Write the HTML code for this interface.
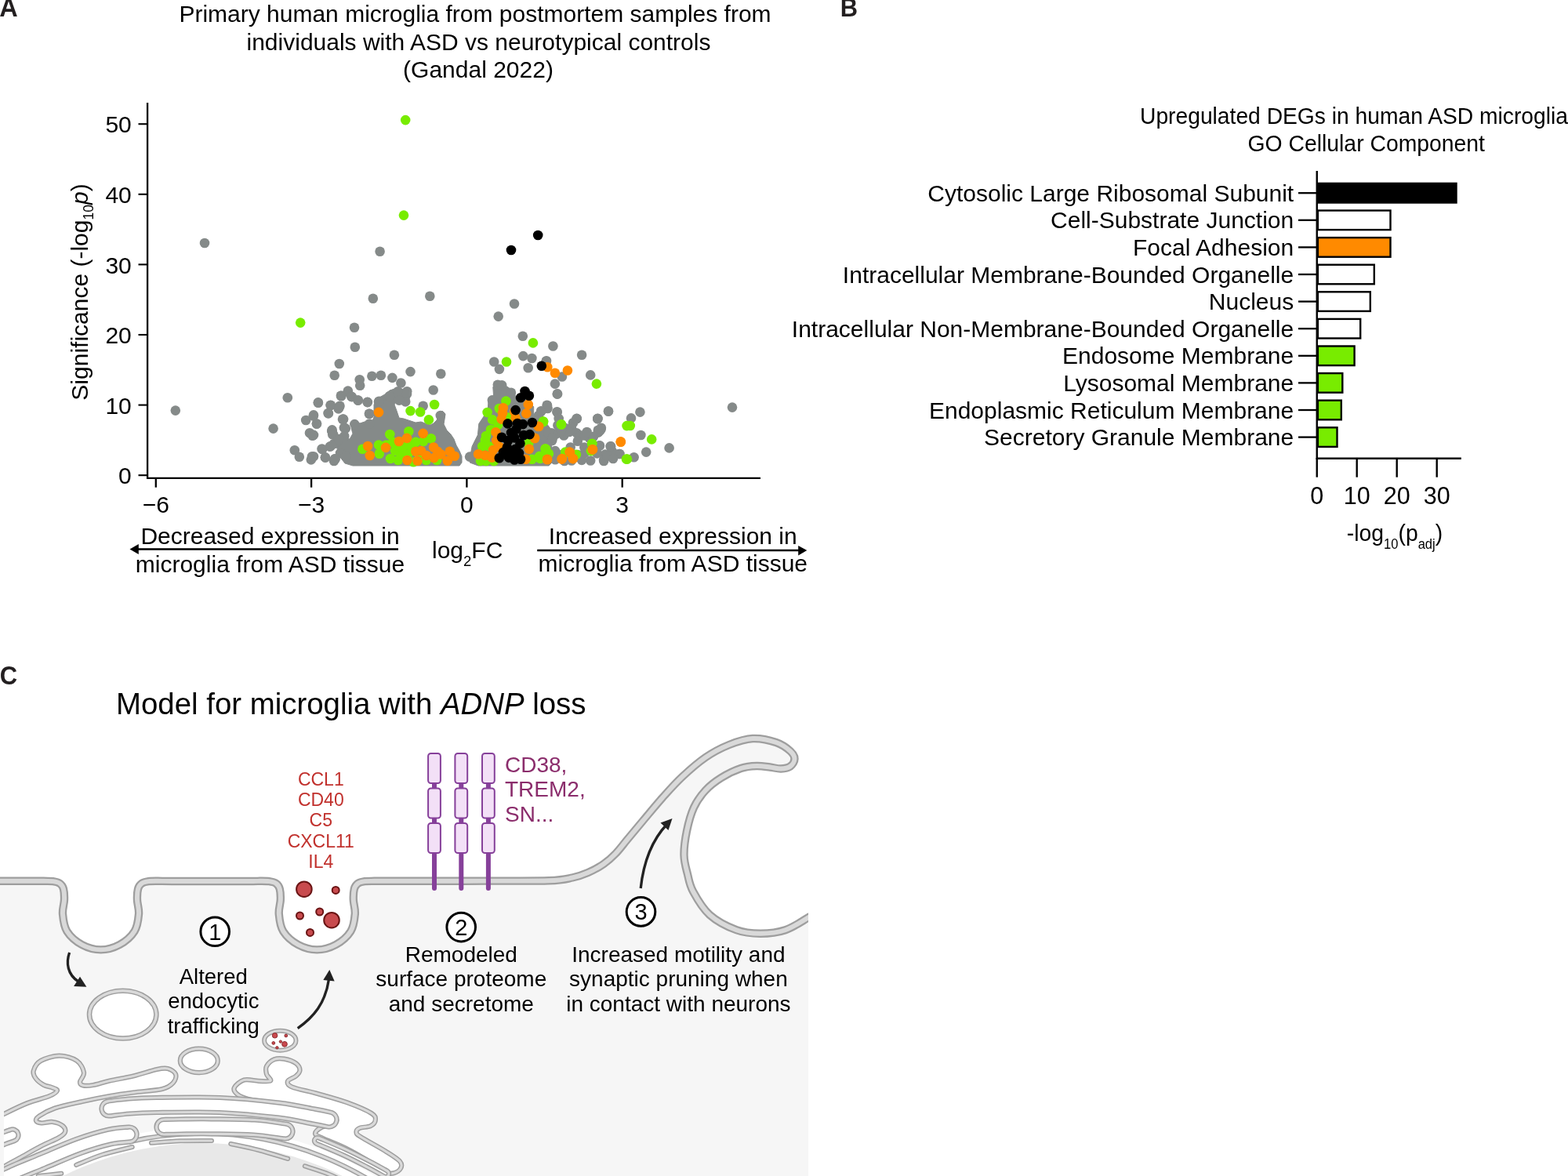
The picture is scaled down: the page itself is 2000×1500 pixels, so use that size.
<!DOCTYPE html>
<html><head><meta charset="utf-8"><style>
html,body{margin:0;padding:0;background:#fff;width:2000px;height:1500px;overflow:hidden}
svg{display:block}
text{font-family:"Liberation Sans", Arial, Helvetica, sans-serif}
.t30{font-size:30px}
.t28{font-size:28px}
.lab{font-family:"Liberation Sans", Arial, Helvetica, sans-serif;font-weight:bold;font-size:33px;fill:#231f20}
</style></head><body>
<svg width="2000" height="1500" viewBox="0 0 2000 1500">
<text x="-0.8" y="20.7" class="lab" textLength="23.5" lengthAdjust="spacingAndGlyphs">A</text>
<text x="1071.8" y="20.8" class="lab" textLength="22.3" lengthAdjust="spacingAndGlyphs">B</text>
<text x="-0.3" y="873.1" class="lab" textLength="22.4" lengthAdjust="spacingAndGlyphs">C</text>
<defs><clipPath id="cclip"><rect x="0" y="900" width="1031" height="600"/></clipPath><clipPath id="erclip"><rect x="5" y="1300" width="1026" height="200"/></clipPath></defs>
<g clip-path="url(#cclip)">
<path d="M-20.0 1123.8 C-13.3 1123.8 7.4 1123.8 20.0 1123.8 C32.6 1123.8 47.6 1123.7 55.5 1123.8 C63.4 1123.9 64.0 1123.7 67.5 1124.2 C71.0 1124.7 74.2 1125.4 76.5 1127.0 C78.8 1128.6 80.1 1130.5 81.0 1134.0 C81.9 1137.5 82.2 1142.7 82.0 1148.0 C81.8 1153.3 79.4 1159.3 80.0 1166.0 C80.6 1172.7 81.4 1181.5 85.5 1188.0 C89.6 1194.5 97.3 1201.1 104.5 1205.0 C111.7 1208.9 120.5 1211.4 128.5 1211.4 C136.5 1211.4 145.3 1208.9 152.5 1205.0 C159.7 1201.1 167.4 1194.5 171.5 1188.0 C175.6 1181.5 176.4 1172.7 177.0 1166.0 C177.6 1159.3 175.2 1153.3 175.0 1148.0 C174.8 1142.7 175.1 1137.5 176.0 1134.0 C176.9 1130.5 178.2 1128.6 180.5 1127.0 C182.8 1125.4 186.0 1124.7 189.5 1124.2 C193.0 1123.7 196.4 1123.8 201.5 1123.8 C206.6 1123.8 208.6 1124.0 220.0 1124.0 C231.4 1124.0 253.3 1124.0 270.0 1124.0 C286.7 1124.0 309.8 1124.0 320.0 1124.0 C330.2 1124.0 327.4 1123.8 331.3 1123.8 C335.2 1123.8 339.8 1123.7 343.3 1124.2 C346.8 1124.7 350.1 1125.4 352.3 1127.0 C354.6 1128.6 355.9 1130.5 356.8 1134.0 C357.7 1137.5 358.0 1142.7 357.8 1148.0 C357.6 1153.3 355.2 1159.3 355.8 1166.0 C356.4 1172.7 357.2 1181.5 361.3 1188.0 C365.4 1194.5 373.1 1201.1 380.3 1205.0 C387.5 1208.9 396.3 1211.4 404.3 1211.4 C412.3 1211.4 421.1 1208.9 428.3 1205.0 C435.5 1201.1 443.2 1194.5 447.3 1188.0 C451.4 1181.5 452.2 1172.7 452.8 1166.0 C453.4 1159.3 451.0 1153.3 450.8 1148.0 C450.6 1142.7 450.9 1137.5 451.8 1134.0 C452.7 1130.5 454.1 1128.6 456.3 1127.0 C458.6 1125.4 461.8 1124.7 465.3 1124.2 C468.8 1123.7 473.2 1123.9 477.3 1123.8 C481.4 1123.7 479.6 1123.8 490.0 1123.8 C500.4 1123.8 518.3 1123.8 540.0 1123.8 C561.7 1123.8 593.3 1123.7 620.0 1123.6 C646.7 1123.5 681.7 1124.0 700.0 1123.3 C718.3 1122.6 721.7 1121.2 730.0 1119.5 C738.3 1117.8 743.3 1115.9 750.0 1113.0 C756.7 1110.1 764.2 1106.0 770.0 1102.0 C775.8 1098.0 780.0 1094.2 785.0 1089.0 C790.0 1083.8 794.2 1078.0 800.0 1071.0 C805.8 1064.0 812.5 1055.9 820.0 1047.0 C827.5 1038.1 836.7 1026.8 845.0 1017.5 C853.3 1008.2 860.8 999.6 870.0 991.0 C879.2 982.4 890.0 972.8 900.0 966.0 C910.0 959.2 920.0 954.0 930.0 950.0 C940.0 946.0 950.0 942.5 960.0 942.0 C970.0 941.5 982.0 944.3 990.0 947.0 C998.0 949.7 1004.1 954.5 1008.0 958.0 C1011.9 961.5 1013.5 964.8 1013.5 968.0 C1013.5 971.2 1010.9 975.4 1008.0 977.5 C1005.1 979.6 1000.3 980.3 996.0 980.5 C991.7 980.7 987.2 979.1 982.0 978.5 C976.8 977.9 971.2 976.8 965.0 977.0 C958.8 977.2 952.5 977.5 945.0 980.0 C937.5 982.5 927.5 987.3 920.0 992.0 C912.5 996.7 905.8 1001.7 900.0 1008.0 C894.2 1014.3 889.0 1021.3 885.0 1030.0 C881.0 1038.7 878.1 1049.8 876.0 1060.0 C873.9 1070.2 872.3 1081.8 872.5 1091.0 C872.7 1100.2 875.1 1107.3 877.0 1115.0 C878.9 1122.7 879.3 1128.3 884.0 1137.0 C888.7 1145.7 896.1 1158.8 905.3 1167.0 C914.5 1175.2 928.5 1182.2 939.3 1186.2 C950.1 1190.2 959.6 1190.7 970.0 1190.7 C980.4 1190.7 991.5 1189.6 1001.7 1186.2 C1011.9 1182.8 1023.0 1175.0 1031.0 1170.3 C1039.0 1165.6 1046.8 1160.0 1050.0 1158.0 L1031 1500 L-20 1500 Z" fill="#f6f6f6"/>
</g>
<g clip-path="url(#erclip)">
<circle cx="258.5" cy="1856.7" r="419" fill="#fff"/>
<clipPath id="pnclip"><rect x="165" y="1400" width="400" height="100"/></clipPath>
<g clip-path="url(#pnclip)"><circle cx="258.5" cy="1856.7" r="411" fill="none" stroke="#9e9e9e" stroke-width="6.2"/>
<circle cx="258.5" cy="1856.7" r="411" fill="none" stroke="#d9d9d9" stroke-width="3.2"/></g>
<circle cx="258.5" cy="1856.7" r="398.7" fill="#e8e8e8"/>
<path d="M-10.0 1430.0 C-7.5 1417.3 -2.5 1424.8 5.0 1421.0 C12.5 1417.2 25.3 1410.8 35.0 1407.0 C44.7 1403.2 56.7 1400.7 63.0 1398.0 C69.3 1395.3 72.5 1392.8 73.0 1391.0 C73.5 1389.2 68.8 1388.2 66.0 1387.0 C63.2 1385.8 59.3 1385.8 56.0 1384.0 C52.7 1382.2 48.2 1379.0 46.0 1376.0 C43.8 1373.0 41.7 1369.8 42.7 1366.0 C43.7 1362.2 46.5 1356.2 52.0 1353.0 C57.5 1349.8 67.9 1346.7 75.6 1346.7 C83.3 1346.7 92.8 1349.5 98.0 1353.0 C103.2 1356.5 106.3 1363.5 107.0 1368.0 C107.7 1372.5 102.2 1377.2 102.0 1380.0 C101.8 1382.8 103.2 1383.8 106.0 1384.5 C108.8 1385.2 113.3 1385.0 119.0 1384.0 C124.7 1383.0 131.5 1380.4 140.0 1378.5 C148.5 1376.6 160.0 1374.9 170.0 1372.5 C180.0 1370.1 192.7 1365.6 200.0 1364.0 C207.3 1362.4 210.0 1362.0 214.0 1363.0 C218.0 1364.0 222.8 1367.0 224.0 1370.0 C225.2 1373.0 223.8 1377.8 221.0 1381.0 C218.2 1384.2 215.5 1386.9 207.0 1389.0 C198.5 1391.1 181.2 1392.0 170.0 1393.5 C158.8 1395.0 150.8 1396.1 140.0 1398.0 C129.2 1399.9 116.7 1402.4 105.0 1405.0 C93.3 1407.6 79.2 1410.4 70.0 1413.5 C60.8 1416.6 54.0 1420.8 50.0 1423.5 C46.0 1426.2 45.5 1428.0 46.0 1429.5 C46.5 1431.0 49.5 1432.2 53.0 1432.5 C56.5 1432.8 62.5 1430.4 67.0 1431.0 C71.5 1431.6 77.3 1433.8 80.0 1436.0 C82.7 1438.2 83.8 1441.5 83.0 1444.0 C82.2 1446.5 80.2 1448.0 75.0 1451.0 C69.8 1454.0 60.3 1457.7 52.0 1462.0 C43.7 1466.3 32.8 1472.7 25.0 1477.0 C17.2 1481.3 10.8 1484.7 5.0 1488.0 C-0.8 1491.3 -7.5 1506.7 -10.0 1497.0 C-12.5 1487.3 -12.5 1442.7 -10.0 1430.0 Z" fill="#fff" stroke="#9e9e9e" stroke-width="6.2"/><path d="M-10.0 1430.0 C-7.5 1417.3 -2.5 1424.8 5.0 1421.0 C12.5 1417.2 25.3 1410.8 35.0 1407.0 C44.7 1403.2 56.7 1400.7 63.0 1398.0 C69.3 1395.3 72.5 1392.8 73.0 1391.0 C73.5 1389.2 68.8 1388.2 66.0 1387.0 C63.2 1385.8 59.3 1385.8 56.0 1384.0 C52.7 1382.2 48.2 1379.0 46.0 1376.0 C43.8 1373.0 41.7 1369.8 42.7 1366.0 C43.7 1362.2 46.5 1356.2 52.0 1353.0 C57.5 1349.8 67.9 1346.7 75.6 1346.7 C83.3 1346.7 92.8 1349.5 98.0 1353.0 C103.2 1356.5 106.3 1363.5 107.0 1368.0 C107.7 1372.5 102.2 1377.2 102.0 1380.0 C101.8 1382.8 103.2 1383.8 106.0 1384.5 C108.8 1385.2 113.3 1385.0 119.0 1384.0 C124.7 1383.0 131.5 1380.4 140.0 1378.5 C148.5 1376.6 160.0 1374.9 170.0 1372.5 C180.0 1370.1 192.7 1365.6 200.0 1364.0 C207.3 1362.4 210.0 1362.0 214.0 1363.0 C218.0 1364.0 222.8 1367.0 224.0 1370.0 C225.2 1373.0 223.8 1377.8 221.0 1381.0 C218.2 1384.2 215.5 1386.9 207.0 1389.0 C198.5 1391.1 181.2 1392.0 170.0 1393.5 C158.8 1395.0 150.8 1396.1 140.0 1398.0 C129.2 1399.9 116.7 1402.4 105.0 1405.0 C93.3 1407.6 79.2 1410.4 70.0 1413.5 C60.8 1416.6 54.0 1420.8 50.0 1423.5 C46.0 1426.2 45.5 1428.0 46.0 1429.5 C46.5 1431.0 49.5 1432.2 53.0 1432.5 C56.5 1432.8 62.5 1430.4 67.0 1431.0 C71.5 1431.6 77.3 1433.8 80.0 1436.0 C82.7 1438.2 83.8 1441.5 83.0 1444.0 C82.2 1446.5 80.2 1448.0 75.0 1451.0 C69.8 1454.0 60.3 1457.7 52.0 1462.0 C43.7 1466.3 32.8 1472.7 25.0 1477.0 C17.2 1481.3 10.8 1484.7 5.0 1488.0 C-0.8 1491.3 -7.5 1506.7 -10.0 1497.0 C-12.5 1487.3 -12.5 1442.7 -10.0 1430.0 Z" fill="none" stroke="#d9d9d9" stroke-width="3.2"/>
<path d="M298.8 1387.5 C300.1 1384.4 306.0 1379.0 311.2 1377.5 C316.5 1376.0 324.4 1378.6 330.0 1378.8 C335.6 1378.9 343.3 1380.0 345.0 1378.5 C346.7 1377.0 340.8 1373.1 340.0 1370.0 C339.2 1366.9 338.3 1363.1 340.0 1360.0 C341.7 1356.9 346.2 1352.8 350.0 1351.2 C353.8 1349.7 357.9 1349.8 362.5 1350.6 C367.1 1351.4 374.2 1353.8 377.5 1356.2 C380.8 1358.7 382.5 1362.3 382.5 1365.0 C382.5 1367.7 380.1 1370.2 377.5 1372.5 C374.9 1374.8 367.8 1376.7 367.0 1379.0 C366.2 1381.3 366.2 1383.8 372.5 1386.5 C378.8 1389.2 393.3 1391.7 405.0 1395.0 C416.7 1398.3 431.0 1402.1 442.5 1406.2 C454.0 1410.4 467.7 1416.2 473.8 1420.0 C479.8 1423.8 479.0 1426.0 478.8 1428.8 C478.5 1431.5 475.8 1434.6 472.5 1436.2 C469.2 1437.9 461.8 1437.5 458.8 1438.8 C455.8 1440.0 454.3 1442.1 454.5 1444.0 C454.7 1445.9 453.7 1445.9 460.0 1450.0 C466.3 1454.1 484.2 1463.5 492.5 1468.8 C500.8 1474.0 506.9 1477.7 510.0 1481.2 C513.1 1484.8 512.5 1487.5 511.2 1490.0 C510.0 1492.5 506.0 1495.4 502.5 1496.2 C499.0 1497.1 495.4 1497.5 490.0 1495.0 C484.6 1492.5 478.3 1486.2 470.0 1481.0 C461.7 1475.8 449.7 1468.8 440.0 1464.0 C430.3 1459.2 418.3 1455.0 412.0 1452.0 C405.7 1449.0 402.3 1448.3 402.0 1446.0 C401.7 1443.7 405.7 1440.3 410.0 1438.0 C414.3 1435.7 425.5 1434.3 428.0 1432.0 C430.5 1429.7 429.7 1426.7 425.0 1424.0 C420.3 1421.3 411.7 1418.7 400.0 1416.0 C388.3 1413.3 368.8 1410.3 355.0 1408.0 C341.2 1405.7 325.7 1404.0 317.0 1402.0 C308.3 1400.0 306.0 1398.4 303.0 1396.0 C300.0 1393.6 297.4 1390.6 298.8 1387.5 Z" fill="#fff" stroke="#9e9e9e" stroke-width="6.2"/><path d="M298.8 1387.5 C300.1 1384.4 306.0 1379.0 311.2 1377.5 C316.5 1376.0 324.4 1378.6 330.0 1378.8 C335.6 1378.9 343.3 1380.0 345.0 1378.5 C346.7 1377.0 340.8 1373.1 340.0 1370.0 C339.2 1366.9 338.3 1363.1 340.0 1360.0 C341.7 1356.9 346.2 1352.8 350.0 1351.2 C353.8 1349.7 357.9 1349.8 362.5 1350.6 C367.1 1351.4 374.2 1353.8 377.5 1356.2 C380.8 1358.7 382.5 1362.3 382.5 1365.0 C382.5 1367.7 380.1 1370.2 377.5 1372.5 C374.9 1374.8 367.8 1376.7 367.0 1379.0 C366.2 1381.3 366.2 1383.8 372.5 1386.5 C378.8 1389.2 393.3 1391.7 405.0 1395.0 C416.7 1398.3 431.0 1402.1 442.5 1406.2 C454.0 1410.4 467.7 1416.2 473.8 1420.0 C479.8 1423.8 479.0 1426.0 478.8 1428.8 C478.5 1431.5 475.8 1434.6 472.5 1436.2 C469.2 1437.9 461.8 1437.5 458.8 1438.8 C455.8 1440.0 454.3 1442.1 454.5 1444.0 C454.7 1445.9 453.7 1445.9 460.0 1450.0 C466.3 1454.1 484.2 1463.5 492.5 1468.8 C500.8 1474.0 506.9 1477.7 510.0 1481.2 C513.1 1484.8 512.5 1487.5 511.2 1490.0 C510.0 1492.5 506.0 1495.4 502.5 1496.2 C499.0 1497.1 495.4 1497.5 490.0 1495.0 C484.6 1492.5 478.3 1486.2 470.0 1481.0 C461.7 1475.8 449.7 1468.8 440.0 1464.0 C430.3 1459.2 418.3 1455.0 412.0 1452.0 C405.7 1449.0 402.3 1448.3 402.0 1446.0 C401.7 1443.7 405.7 1440.3 410.0 1438.0 C414.3 1435.7 425.5 1434.3 428.0 1432.0 C430.5 1429.7 429.7 1426.7 425.0 1424.0 C420.3 1421.3 411.7 1418.7 400.0 1416.0 C388.3 1413.3 368.8 1410.3 355.0 1408.0 C341.2 1405.7 325.7 1404.0 317.0 1402.0 C308.3 1400.0 306.0 1398.4 303.0 1396.0 C300.0 1393.6 297.4 1390.6 298.8 1387.5 Z" fill="none" stroke="#d9d9d9" stroke-width="3.2"/>
<ellipse cx="253.8" cy="1352.9" rx="24" ry="15.2" fill="#fff" stroke="#9e9e9e" stroke-width="6.2"/><ellipse cx="253.8" cy="1352.9" rx="24" ry="15.2" fill="none" stroke="#d9d9d9" stroke-width="3.2"/>
<path d="M139.0 1414.0 C143.3 1413.5 154.8 1411.8 165.0 1411.0 C175.2 1410.2 180.8 1409.8 200.0 1409.5 C219.2 1409.2 254.2 1408.4 280.0 1409.5 C305.8 1410.6 335.0 1413.6 355.0 1416.0 C375.0 1418.4 389.2 1422.0 400.0 1424.0 C410.8 1426.0 416.7 1427.3 420.0 1428.0" fill="none" stroke="#9e9e9e" stroke-width="25.2" stroke-linecap="round" stroke-linejoin="round"/>
<path d="M209.0 1437.5 C212.5 1437.4 219.8 1437.1 230.0 1437.0 C240.2 1436.9 254.3 1436.6 270.0 1436.8 C285.7 1437.0 308.3 1437.0 324.0 1438.0 C339.7 1439.0 357.3 1442.2 364.0 1443.0" fill="none" stroke="#9e9e9e" stroke-width="25.2" stroke-linecap="round" stroke-linejoin="round"/>
<path d="M-10.0 1509.0 C-5.0 1506.7 9.3 1499.7 20.0 1495.0 C30.7 1490.3 40.7 1486.5 54.0 1481.0 C67.3 1475.5 85.7 1467.2 100.0 1462.0 C114.3 1456.8 129.2 1452.5 140.0 1450.0 C150.8 1447.5 160.8 1447.5 165.0 1447.0" fill="none" stroke="#9e9e9e" stroke-width="25.2" stroke-linecap="round" stroke-linejoin="round"/>
<path d="M-10.0 1458.0 C-7.5 1457.0 0.7 1453.7 5.0 1452.0 C9.3 1450.3 14.2 1448.7 16.0 1448.0" fill="none" stroke="#9e9e9e" stroke-width="21.2" stroke-linecap="round" stroke-linejoin="round"/>
<path d="M405.0 1455.0 C410.8 1457.5 429.2 1465.0 440.0 1470.0 C450.8 1475.0 461.3 1480.5 470.0 1485.0 C478.7 1489.5 488.3 1495.0 492.0 1497.0" fill="none" stroke="#9e9e9e" stroke-width="14.2" stroke-linecap="round" stroke-linejoin="round"/>
<path d="M139.0 1414.0 C143.3 1413.5 154.8 1411.8 165.0 1411.0 C175.2 1410.2 180.8 1409.8 200.0 1409.5 C219.2 1409.2 254.2 1408.4 280.0 1409.5 C305.8 1410.6 335.0 1413.6 355.0 1416.0 C375.0 1418.4 389.2 1422.0 400.0 1424.0 C410.8 1426.0 416.7 1427.3 420.0 1428.0" fill="none" stroke="#d9d9d9" stroke-width="22.2" stroke-linecap="round" stroke-linejoin="round"/>
<path d="M209.0 1437.5 C212.5 1437.4 219.8 1437.1 230.0 1437.0 C240.2 1436.9 254.3 1436.6 270.0 1436.8 C285.7 1437.0 308.3 1437.0 324.0 1438.0 C339.7 1439.0 357.3 1442.2 364.0 1443.0" fill="none" stroke="#d9d9d9" stroke-width="22.2" stroke-linecap="round" stroke-linejoin="round"/>
<path d="M-10.0 1509.0 C-5.0 1506.7 9.3 1499.7 20.0 1495.0 C30.7 1490.3 40.7 1486.5 54.0 1481.0 C67.3 1475.5 85.7 1467.2 100.0 1462.0 C114.3 1456.8 129.2 1452.5 140.0 1450.0 C150.8 1447.5 160.8 1447.5 165.0 1447.0" fill="none" stroke="#d9d9d9" stroke-width="22.2" stroke-linecap="round" stroke-linejoin="round"/>
<path d="M-10.0 1458.0 C-7.5 1457.0 0.7 1453.7 5.0 1452.0 C9.3 1450.3 14.2 1448.7 16.0 1448.0" fill="none" stroke="#d9d9d9" stroke-width="18.2" stroke-linecap="round" stroke-linejoin="round"/>
<path d="M405.0 1455.0 C410.8 1457.5 429.2 1465.0 440.0 1470.0 C450.8 1475.0 461.3 1480.5 470.0 1485.0 C478.7 1489.5 488.3 1495.0 492.0 1497.0" fill="none" stroke="#d9d9d9" stroke-width="11.2" stroke-linecap="round" stroke-linejoin="round"/>
<path d="M139.0 1414.0 C143.3 1413.5 154.8 1411.8 165.0 1411.0 C175.2 1410.2 180.8 1409.8 200.0 1409.5 C219.2 1409.2 254.2 1408.4 280.0 1409.5 C305.8 1410.6 335.0 1413.6 355.0 1416.0 C375.0 1418.4 389.2 1422.0 400.0 1424.0 C410.8 1426.0 416.7 1427.3 420.0 1428.0" fill="none" stroke="#9e9e9e" stroke-width="15.8" stroke-linecap="round" stroke-linejoin="round"/>
<path d="M209.0 1437.5 C212.5 1437.4 219.8 1437.1 230.0 1437.0 C240.2 1436.9 254.3 1436.6 270.0 1436.8 C285.7 1437.0 308.3 1437.0 324.0 1438.0 C339.7 1439.0 357.3 1442.2 364.0 1443.0" fill="none" stroke="#9e9e9e" stroke-width="15.8" stroke-linecap="round" stroke-linejoin="round"/>
<path d="M-10.0 1509.0 C-5.0 1506.7 9.3 1499.7 20.0 1495.0 C30.7 1490.3 40.7 1486.5 54.0 1481.0 C67.3 1475.5 85.7 1467.2 100.0 1462.0 C114.3 1456.8 129.2 1452.5 140.0 1450.0 C150.8 1447.5 160.8 1447.5 165.0 1447.0" fill="none" stroke="#9e9e9e" stroke-width="15.8" stroke-linecap="round" stroke-linejoin="round"/>
<path d="M-10.0 1458.0 C-7.5 1457.0 0.7 1453.7 5.0 1452.0 C9.3 1450.3 14.2 1448.7 16.0 1448.0" fill="none" stroke="#9e9e9e" stroke-width="11.8" stroke-linecap="round" stroke-linejoin="round"/>
<path d="M405.0 1455.0 C410.8 1457.5 429.2 1465.0 440.0 1470.0 C450.8 1475.0 461.3 1480.5 470.0 1485.0 C478.7 1489.5 488.3 1495.0 492.0 1497.0" fill="none" stroke="#9e9e9e" stroke-width="4.8" stroke-linecap="round" stroke-linejoin="round"/>
<path d="M139.0 1414.0 C143.3 1413.5 154.8 1411.8 165.0 1411.0 C175.2 1410.2 180.8 1409.8 200.0 1409.5 C219.2 1409.2 254.2 1408.4 280.0 1409.5 C305.8 1410.6 335.0 1413.6 355.0 1416.0 C375.0 1418.4 389.2 1422.0 400.0 1424.0 C410.8 1426.0 416.7 1427.3 420.0 1428.0" fill="none" stroke="#fff" stroke-width="12.8" stroke-linecap="round" stroke-linejoin="round"/>
<path d="M209.0 1437.5 C212.5 1437.4 219.8 1437.1 230.0 1437.0 C240.2 1436.9 254.3 1436.6 270.0 1436.8 C285.7 1437.0 308.3 1437.0 324.0 1438.0 C339.7 1439.0 357.3 1442.2 364.0 1443.0" fill="none" stroke="#fff" stroke-width="12.8" stroke-linecap="round" stroke-linejoin="round"/>
<path d="M-10.0 1509.0 C-5.0 1506.7 9.3 1499.7 20.0 1495.0 C30.7 1490.3 40.7 1486.5 54.0 1481.0 C67.3 1475.5 85.7 1467.2 100.0 1462.0 C114.3 1456.8 129.2 1452.5 140.0 1450.0 C150.8 1447.5 160.8 1447.5 165.0 1447.0" fill="none" stroke="#fff" stroke-width="12.8" stroke-linecap="round" stroke-linejoin="round"/>
<path d="M-10.0 1458.0 C-7.5 1457.0 0.7 1453.7 5.0 1452.0 C9.3 1450.3 14.2 1448.7 16.0 1448.0" fill="none" stroke="#fff" stroke-width="8.8" stroke-linecap="round" stroke-linejoin="round"/>
<path d="M405.0 1455.0 C410.8 1457.5 429.2 1465.0 440.0 1470.0 C450.8 1475.0 461.3 1480.5 470.0 1485.0 C478.7 1489.5 488.3 1495.0 492.0 1497.0" fill="none" stroke="#fff" stroke-width="1.7999999999999998" stroke-linecap="round" stroke-linejoin="round"/>
<path d="M97.2 1486.0 C102.7 1483.8 118.1 1476.8 130.0 1473.0 C141.9 1469.2 162.2 1464.7 168.7 1463.0" fill="none" stroke="#9e9e9e" stroke-width="6" stroke-linecap="round"/>
<path d="M97.2 1486.0 C102.7 1483.8 118.1 1476.8 130.0 1473.0 C141.9 1469.2 162.2 1464.7 168.7 1463.0" fill="none" stroke="#d9d9d9" stroke-width="3" stroke-linecap="round"/>
<path d="M193.0 1457.7 C199.2 1457.3 217.2 1455.8 230.0 1455.3 C242.8 1454.8 263.3 1455.0 270.0 1455.0" fill="none" stroke="#9e9e9e" stroke-width="6" stroke-linecap="round"/>
<path d="M193.0 1457.7 C199.2 1457.3 217.2 1455.8 230.0 1455.3 C242.8 1454.8 263.3 1455.0 270.0 1455.0" fill="none" stroke="#d9d9d9" stroke-width="3" stroke-linecap="round"/>
<path d="M294.3 1459.0 C300.2 1460.3 317.9 1463.8 330.0 1467.0 C342.1 1470.2 361.0 1476.2 367.2 1478.0" fill="none" stroke="#9e9e9e" stroke-width="6" stroke-linecap="round"/>
<path d="M294.3 1459.0 C300.2 1460.3 317.9 1463.8 330.0 1467.0 C342.1 1470.2 361.0 1476.2 367.2 1478.0" fill="none" stroke="#d9d9d9" stroke-width="3" stroke-linecap="round"/>
<path d="M388.8 1487.4 C394.0 1489.2 410.6 1494.2 420.0 1498.0 C429.4 1501.8 441.2 1508.0 445.5 1510.0" fill="none" stroke="#9e9e9e" stroke-width="6" stroke-linecap="round"/>
<path d="M388.8 1487.4 C394.0 1489.2 410.6 1494.2 420.0 1498.0 C429.4 1501.8 441.2 1508.0 445.5 1510.0" fill="none" stroke="#d9d9d9" stroke-width="3" stroke-linecap="round"/>
<path d="M48.6 1500.0 C53.5 1499.5 73.3 1497.3 78.3 1496.8" fill="none" stroke="#9e9e9e" stroke-width="6" stroke-linecap="round"/>
<path d="M48.6 1500.0 C53.5 1499.5 73.3 1497.3 78.3 1496.8" fill="none" stroke="#d9d9d9" stroke-width="3" stroke-linecap="round"/>
</g>
<g clip-path="url(#cclip)">
<path d="M-20.0 1123.8 C-13.3 1123.8 7.4 1123.8 20.0 1123.8 C32.6 1123.8 47.6 1123.7 55.5 1123.8 C63.4 1123.9 64.0 1123.7 67.5 1124.2 C71.0 1124.7 74.2 1125.4 76.5 1127.0 C78.8 1128.6 80.1 1130.5 81.0 1134.0 C81.9 1137.5 82.2 1142.7 82.0 1148.0 C81.8 1153.3 79.4 1159.3 80.0 1166.0 C80.6 1172.7 81.4 1181.5 85.5 1188.0 C89.6 1194.5 97.3 1201.1 104.5 1205.0 C111.7 1208.9 120.5 1211.4 128.5 1211.4 C136.5 1211.4 145.3 1208.9 152.5 1205.0 C159.7 1201.1 167.4 1194.5 171.5 1188.0 C175.6 1181.5 176.4 1172.7 177.0 1166.0 C177.6 1159.3 175.2 1153.3 175.0 1148.0 C174.8 1142.7 175.1 1137.5 176.0 1134.0 C176.9 1130.5 178.2 1128.6 180.5 1127.0 C182.8 1125.4 186.0 1124.7 189.5 1124.2 C193.0 1123.7 196.4 1123.8 201.5 1123.8 C206.6 1123.8 208.6 1124.0 220.0 1124.0 C231.4 1124.0 253.3 1124.0 270.0 1124.0 C286.7 1124.0 309.8 1124.0 320.0 1124.0 C330.2 1124.0 327.4 1123.8 331.3 1123.8 C335.2 1123.8 339.8 1123.7 343.3 1124.2 C346.8 1124.7 350.1 1125.4 352.3 1127.0 C354.6 1128.6 355.9 1130.5 356.8 1134.0 C357.7 1137.5 358.0 1142.7 357.8 1148.0 C357.6 1153.3 355.2 1159.3 355.8 1166.0 C356.4 1172.7 357.2 1181.5 361.3 1188.0 C365.4 1194.5 373.1 1201.1 380.3 1205.0 C387.5 1208.9 396.3 1211.4 404.3 1211.4 C412.3 1211.4 421.1 1208.9 428.3 1205.0 C435.5 1201.1 443.2 1194.5 447.3 1188.0 C451.4 1181.5 452.2 1172.7 452.8 1166.0 C453.4 1159.3 451.0 1153.3 450.8 1148.0 C450.6 1142.7 450.9 1137.5 451.8 1134.0 C452.7 1130.5 454.1 1128.6 456.3 1127.0 C458.6 1125.4 461.8 1124.7 465.3 1124.2 C468.8 1123.7 473.2 1123.9 477.3 1123.8 C481.4 1123.7 479.6 1123.8 490.0 1123.8 C500.4 1123.8 518.3 1123.8 540.0 1123.8 C561.7 1123.8 593.3 1123.7 620.0 1123.6 C646.7 1123.5 681.7 1124.0 700.0 1123.3 C718.3 1122.6 721.7 1121.2 730.0 1119.5 C738.3 1117.8 743.3 1115.9 750.0 1113.0 C756.7 1110.1 764.2 1106.0 770.0 1102.0 C775.8 1098.0 780.0 1094.2 785.0 1089.0 C790.0 1083.8 794.2 1078.0 800.0 1071.0 C805.8 1064.0 812.5 1055.9 820.0 1047.0 C827.5 1038.1 836.7 1026.8 845.0 1017.5 C853.3 1008.2 860.8 999.6 870.0 991.0 C879.2 982.4 890.0 972.8 900.0 966.0 C910.0 959.2 920.0 954.0 930.0 950.0 C940.0 946.0 950.0 942.5 960.0 942.0 C970.0 941.5 982.0 944.3 990.0 947.0 C998.0 949.7 1004.1 954.5 1008.0 958.0 C1011.9 961.5 1013.5 964.8 1013.5 968.0 C1013.5 971.2 1010.9 975.4 1008.0 977.5 C1005.1 979.6 1000.3 980.3 996.0 980.5 C991.7 980.7 987.2 979.1 982.0 978.5 C976.8 977.9 971.2 976.8 965.0 977.0 C958.8 977.2 952.5 977.5 945.0 980.0 C937.5 982.5 927.5 987.3 920.0 992.0 C912.5 996.7 905.8 1001.7 900.0 1008.0 C894.2 1014.3 889.0 1021.3 885.0 1030.0 C881.0 1038.7 878.1 1049.8 876.0 1060.0 C873.9 1070.2 872.3 1081.8 872.5 1091.0 C872.7 1100.2 875.1 1107.3 877.0 1115.0 C878.9 1122.7 879.3 1128.3 884.0 1137.0 C888.7 1145.7 896.1 1158.8 905.3 1167.0 C914.5 1175.2 928.5 1182.2 939.3 1186.2 C950.1 1190.2 959.6 1190.7 970.0 1190.7 C980.4 1190.7 991.5 1189.6 1001.7 1186.2 C1011.9 1182.8 1023.0 1175.0 1031.0 1170.3 C1039.0 1165.6 1046.8 1160.0 1050.0 1158.0" fill="none" stroke="#9e9e9e" stroke-width="10.4"/>
<path d="M-20.0 1123.8 C-13.3 1123.8 7.4 1123.8 20.0 1123.8 C32.6 1123.8 47.6 1123.7 55.5 1123.8 C63.4 1123.9 64.0 1123.7 67.5 1124.2 C71.0 1124.7 74.2 1125.4 76.5 1127.0 C78.8 1128.6 80.1 1130.5 81.0 1134.0 C81.9 1137.5 82.2 1142.7 82.0 1148.0 C81.8 1153.3 79.4 1159.3 80.0 1166.0 C80.6 1172.7 81.4 1181.5 85.5 1188.0 C89.6 1194.5 97.3 1201.1 104.5 1205.0 C111.7 1208.9 120.5 1211.4 128.5 1211.4 C136.5 1211.4 145.3 1208.9 152.5 1205.0 C159.7 1201.1 167.4 1194.5 171.5 1188.0 C175.6 1181.5 176.4 1172.7 177.0 1166.0 C177.6 1159.3 175.2 1153.3 175.0 1148.0 C174.8 1142.7 175.1 1137.5 176.0 1134.0 C176.9 1130.5 178.2 1128.6 180.5 1127.0 C182.8 1125.4 186.0 1124.7 189.5 1124.2 C193.0 1123.7 196.4 1123.8 201.5 1123.8 C206.6 1123.8 208.6 1124.0 220.0 1124.0 C231.4 1124.0 253.3 1124.0 270.0 1124.0 C286.7 1124.0 309.8 1124.0 320.0 1124.0 C330.2 1124.0 327.4 1123.8 331.3 1123.8 C335.2 1123.8 339.8 1123.7 343.3 1124.2 C346.8 1124.7 350.1 1125.4 352.3 1127.0 C354.6 1128.6 355.9 1130.5 356.8 1134.0 C357.7 1137.5 358.0 1142.7 357.8 1148.0 C357.6 1153.3 355.2 1159.3 355.8 1166.0 C356.4 1172.7 357.2 1181.5 361.3 1188.0 C365.4 1194.5 373.1 1201.1 380.3 1205.0 C387.5 1208.9 396.3 1211.4 404.3 1211.4 C412.3 1211.4 421.1 1208.9 428.3 1205.0 C435.5 1201.1 443.2 1194.5 447.3 1188.0 C451.4 1181.5 452.2 1172.7 452.8 1166.0 C453.4 1159.3 451.0 1153.3 450.8 1148.0 C450.6 1142.7 450.9 1137.5 451.8 1134.0 C452.7 1130.5 454.1 1128.6 456.3 1127.0 C458.6 1125.4 461.8 1124.7 465.3 1124.2 C468.8 1123.7 473.2 1123.9 477.3 1123.8 C481.4 1123.7 479.6 1123.8 490.0 1123.8 C500.4 1123.8 518.3 1123.8 540.0 1123.8 C561.7 1123.8 593.3 1123.7 620.0 1123.6 C646.7 1123.5 681.7 1124.0 700.0 1123.3 C718.3 1122.6 721.7 1121.2 730.0 1119.5 C738.3 1117.8 743.3 1115.9 750.0 1113.0 C756.7 1110.1 764.2 1106.0 770.0 1102.0 C775.8 1098.0 780.0 1094.2 785.0 1089.0 C790.0 1083.8 794.2 1078.0 800.0 1071.0 C805.8 1064.0 812.5 1055.9 820.0 1047.0 C827.5 1038.1 836.7 1026.8 845.0 1017.5 C853.3 1008.2 860.8 999.6 870.0 991.0 C879.2 982.4 890.0 972.8 900.0 966.0 C910.0 959.2 920.0 954.0 930.0 950.0 C940.0 946.0 950.0 942.5 960.0 942.0 C970.0 941.5 982.0 944.3 990.0 947.0 C998.0 949.7 1004.1 954.5 1008.0 958.0 C1011.9 961.5 1013.5 964.8 1013.5 968.0 C1013.5 971.2 1010.9 975.4 1008.0 977.5 C1005.1 979.6 1000.3 980.3 996.0 980.5 C991.7 980.7 987.2 979.1 982.0 978.5 C976.8 977.9 971.2 976.8 965.0 977.0 C958.8 977.2 952.5 977.5 945.0 980.0 C937.5 982.5 927.5 987.3 920.0 992.0 C912.5 996.7 905.8 1001.7 900.0 1008.0 C894.2 1014.3 889.0 1021.3 885.0 1030.0 C881.0 1038.7 878.1 1049.8 876.0 1060.0 C873.9 1070.2 872.3 1081.8 872.5 1091.0 C872.7 1100.2 875.1 1107.3 877.0 1115.0 C878.9 1122.7 879.3 1128.3 884.0 1137.0 C888.7 1145.7 896.1 1158.8 905.3 1167.0 C914.5 1175.2 928.5 1182.2 939.3 1186.2 C950.1 1190.2 959.6 1190.7 970.0 1190.7 C980.4 1190.7 991.5 1189.6 1001.7 1186.2 C1011.9 1182.8 1023.0 1175.0 1031.0 1170.3 C1039.0 1165.6 1046.8 1160.0 1050.0 1158.0" fill="none" stroke="#d9d9d9" stroke-width="5.9"/>
</g>
<ellipse cx="156.7" cy="1294.1" rx="42.7" ry="30.4" fill="#fff" stroke="#9e9e9e" stroke-width="6.5"/><ellipse cx="156.7" cy="1294.1" rx="42.7" ry="30.4" fill="none" stroke="#d9d9d9" stroke-width="3.5"/>
<ellipse cx="357.3" cy="1327.2" rx="20.2" ry="12.5" fill="#fff" stroke="#9e9e9e" stroke-width="5.9"/><ellipse cx="357.3" cy="1327.2" rx="20.2" ry="12.5" fill="none" stroke="#d9d9d9" stroke-width="2.9000000000000004"/>
<circle cx="350.6" cy="1320.8" r="3.3" fill="#c94a4f" stroke="#7a1a1e" stroke-width="0.8"/>
<circle cx="364.8" cy="1321" r="1.9" fill="#c94a4f" stroke="#7a1a1e" stroke-width="0.8"/>
<circle cx="348.8" cy="1330.4" r="1.9" fill="#c94a4f" stroke="#7a1a1e" stroke-width="0.8"/>
<circle cx="357.9" cy="1328.6" r="1.7" fill="#c94a4f" stroke="#7a1a1e" stroke-width="0.8"/>
<circle cx="363" cy="1331.8" r="3.4" fill="#c94a4f" stroke="#7a1a1e" stroke-width="0.8"/>
<circle cx="353.4" cy="1336.3" r="1.7" fill="#c94a4f" stroke="#7a1a1e" stroke-width="0.8"/>
<circle cx="387.9" cy="1134.2" r="9.8" fill="#c84b4e" stroke="#6a1414" stroke-width="2"/>
<circle cx="428.2" cy="1135.4" r="4.5" fill="#c84b4e" stroke="#6a1414" stroke-width="2"/>
<circle cx="382.5" cy="1168" r="4.5" fill="#c84b4e" stroke="#6a1414" stroke-width="2"/>
<circle cx="407.7" cy="1163" r="4.5" fill="#c84b4e" stroke="#6a1414" stroke-width="2"/>
<circle cx="423" cy="1173.7" r="9.8" fill="#c84b4e" stroke="#6a1414" stroke-width="2"/>
<circle cx="395.5" cy="1189.4" r="4.5" fill="#c84b4e" stroke="#6a1414" stroke-width="2"/>
<line x1="554" y1="1086" x2="554" y2="1133" stroke="#86409a" stroke-width="6" stroke-linecap="round"/>
<rect x="546.1" y="961" width="15.8" height="38" rx="3.5" fill="#f3e0f7" stroke="#86409a" stroke-width="2"/>
<rect x="546.1" y="1005.5" width="15.8" height="38.0" rx="3.5" fill="#f3e0f7" stroke="#86409a" stroke-width="2"/>
<rect x="546.1" y="1050" width="15.8" height="38" rx="3.5" fill="#f3e0f7" stroke="#86409a" stroke-width="2"/>
<rect x="551" y="998.7" width="6" height="7" fill="#86409a"/>
<rect x="551" y="1043.2" width="6" height="7" fill="#86409a"/>
<line x1="588.3" y1="1086" x2="588.3" y2="1133" stroke="#86409a" stroke-width="6" stroke-linecap="round"/>
<rect x="580.4" y="961" width="15.8" height="38" rx="3.5" fill="#f3e0f7" stroke="#86409a" stroke-width="2"/>
<rect x="580.4" y="1005.5" width="15.8" height="38.0" rx="3.5" fill="#f3e0f7" stroke="#86409a" stroke-width="2"/>
<rect x="580.4" y="1050" width="15.8" height="38" rx="3.5" fill="#f3e0f7" stroke="#86409a" stroke-width="2"/>
<rect x="585.3" y="998.7" width="6" height="7" fill="#86409a"/>
<rect x="585.3" y="1043.2" width="6" height="7" fill="#86409a"/>
<line x1="622.9" y1="1086" x2="622.9" y2="1133" stroke="#86409a" stroke-width="6" stroke-linecap="round"/>
<rect x="615.0" y="961" width="15.8" height="38" rx="3.5" fill="#f3e0f7" stroke="#86409a" stroke-width="2"/>
<rect x="615.0" y="1005.5" width="15.8" height="38.0" rx="3.5" fill="#f3e0f7" stroke="#86409a" stroke-width="2"/>
<rect x="615.0" y="1050" width="15.8" height="38" rx="3.5" fill="#f3e0f7" stroke="#86409a" stroke-width="2"/>
<rect x="619.9" y="998.7" width="6" height="7" fill="#86409a"/>
<rect x="619.9" y="1043.2" width="6" height="7" fill="#86409a"/>
<circle cx="274.2" cy="1188.3" r="18.3" fill="#fff" stroke="#000" stroke-width="3"/>
<text x="274.2" y="1198.6" text-anchor="middle" font-size="29">1</text>
<circle cx="588.2" cy="1182.6" r="18.3" fill="#fff" stroke="#000" stroke-width="3"/>
<text x="588.2" y="1192.9" text-anchor="middle" font-size="29">2</text>
<circle cx="817.5" cy="1162.9" r="18.3" fill="#fff" stroke="#000" stroke-width="3"/>
<text x="817.5" y="1173.2" text-anchor="middle" font-size="29">3</text>
<path d="M88.6 1215 C84 1228 86 1243 100 1252" fill="none" stroke="#222" stroke-width="3.3"/>
<path d="M110.4 1258.8 L94.1 1257.9 L102 1245.7 Z" fill="#222"/>
<path d="M379.7 1311.7 C400 1297 415 1280 419.5 1249" fill="none" stroke="#222" stroke-width="3.3"/>
<path d="M420.3 1237 L412.3 1249.9 L426.7 1251.5 Z" fill="#222"/>
<path d="M817.2 1133 C821 1098 833 1070 851 1051" fill="none" stroke="#222" stroke-width="3.3"/>
<path d="M857.5 1044 L842.5 1049.5 L852.5 1059 Z" fill="#222"/>
<text x="148" y="911.2" font-size="38.4">Model for microglia with <tspan font-style="italic">ADNP</tspan> loss</text>
<text x="409.3" y="1002.0" text-anchor="middle" font-size="23" fill="#c1312d" >CCL1</text>
<text x="409.3" y="1028.2" text-anchor="middle" font-size="23" fill="#c1312d" >CD40</text>
<text x="409.3" y="1054.4" text-anchor="middle" font-size="23" fill="#c1312d" >C5</text>
<text x="409.3" y="1080.6" text-anchor="middle" font-size="23" fill="#c1312d" >CXCL11</text>
<text x="409.3" y="1106.8" text-anchor="middle" font-size="23" fill="#c1312d" >IL4</text>
<text x="644" y="984.5" font-size="28" fill="#8b2d6c">CD38,</text>
<text x="644" y="1016.4" font-size="28" fill="#8b2d6c">TREM2,</text>
<text x="644" y="1048.3" font-size="28" fill="#8b2d6c">SN...</text>
<text x="272.3" y="1254.6" text-anchor="middle" font-size="27.5" fill="#000" >Altered</text>
<text x="272.3" y="1286.1" text-anchor="middle" font-size="27.5" fill="#000" >endocytic</text>
<text x="272.3" y="1317.6" text-anchor="middle" font-size="27.5" fill="#000" >trafficking</text>
<text x="588.3" y="1226.6" text-anchor="middle" font-size="28" fill="#000" >Remodeled</text>
<text x="588.3" y="1258.1999999999998" text-anchor="middle" font-size="28" fill="#000" >surface proteome</text>
<text x="588.3" y="1289.8" text-anchor="middle" font-size="28" fill="#000" >and secretome</text>
<text x="865.4" y="1226.9" text-anchor="middle" font-size="28" fill="#000" >Increased motility and</text>
<text x="865.4" y="1258.3000000000002" text-anchor="middle" font-size="28" fill="#000" >synaptic pruning when</text>
<text x="865.4" y="1289.7" text-anchor="middle" font-size="28" fill="#000" >in contact with neurons</text>
<text x="606" y="28" text-anchor="middle" class="t30">Primary human microglia from postmortem samples from</text>
<text x="610.5" y="63.7" text-anchor="middle" class="t30">individuals with ASD vs neurotypical controls</text>
<text x="610" y="99" text-anchor="middle" class="t30">(Gandal 2022)</text>
<path d="M188.1 131 V609.9 H970" fill="none" stroke="#000" stroke-width="2.3"/>
<line x1="176.5" x2="188.1" y1="606.2" y2="606.2" stroke="#000" stroke-width="2.1"/>
<text x="167.8" y="617.3" text-anchor="end" font-size="30">0</text>
<line x1="176.5" x2="188.1" y1="516.6" y2="516.6" stroke="#000" stroke-width="2.1"/>
<text x="167.8" y="527.7" text-anchor="end" font-size="30">10</text>
<line x1="176.5" x2="188.1" y1="427.0" y2="427.0" stroke="#000" stroke-width="2.1"/>
<text x="167.8" y="438.1" text-anchor="end" font-size="30">20</text>
<line x1="176.5" x2="188.1" y1="337.4" y2="337.4" stroke="#000" stroke-width="2.1"/>
<text x="167.8" y="348.5" text-anchor="end" font-size="30">30</text>
<line x1="176.5" x2="188.1" y1="247.8" y2="247.8" stroke="#000" stroke-width="2.1"/>
<text x="167.8" y="258.9" text-anchor="end" font-size="30">40</text>
<line x1="176.5" x2="188.1" y1="158.2" y2="158.2" stroke="#000" stroke-width="2.1"/>
<text x="167.8" y="169.3" text-anchor="end" font-size="30">50</text>
<line x1="198.8" x2="198.8" y1="609" y2="621.7" stroke="#000" stroke-width="2.3"/>
<text x="198.8" y="654" text-anchor="middle" font-size="30">−6</text>
<line x1="397.1" x2="397.1" y1="609" y2="621.7" stroke="#000" stroke-width="2.3"/>
<text x="397.1" y="654" text-anchor="middle" font-size="30">−3</text>
<line x1="595.4" x2="595.4" y1="609" y2="621.7" stroke="#000" stroke-width="2.3"/>
<text x="595.4" y="654" text-anchor="middle" font-size="30">0</text>
<line x1="793.7" x2="793.7" y1="609" y2="621.7" stroke="#000" stroke-width="2.3"/>
<text x="793.7" y="654" text-anchor="middle" font-size="30">3</text>
<text transform="translate(111.5 372.5) rotate(-90)" text-anchor="middle" font-size="30">Significance (-log<tspan font-size="17.5" dy="7">10</tspan><tspan dy="-7" font-style="italic">p</tspan>)</text>
<text x="344.5" y="694" text-anchor="middle" font-size="30">Decreased expression in</text>
<text x="344.5" y="729.5" text-anchor="middle" font-size="30">microglia from ASD tissue</text>
<line x1="175" x2="508" y1="700.5" y2="700.5" stroke="#000" stroke-width="2.6"/>
<path d="M165.5 700.5 L176.8 694 L176.8 707 Z" fill="#000"/>
<text x="858.3" y="694" text-anchor="middle" font-size="30">Increased expression in</text>
<text x="858.3" y="729.4" text-anchor="middle" font-size="30">microglia from ASD tissue</text>
<line x1="685.2" x2="1020" y1="702" y2="702" stroke="#000" stroke-width="2.6"/>
<path d="M1029.3 702 L1018.2 696 L1018.2 708.5 Z" fill="#000"/>
<text x="551" y="712" font-size="30">log<tspan font-size="18.5" dy="9.5">2</tspan><tspan dy="-9.5">FC</tspan></text>
<g id="scatter">
<path d="M425.0 562.0 L434.0 558.0 L446.0 560.0 L450.0 553.0 L448.0 546.0 L452.0 537.0 L459.0 540.0 L465.0 538.0 L475.0 536.6 L477.0 532.0 L477.0 516.0 L482.0 508.0 L491.0 503.0 L497.0 498.0 L503.0 496.0 L512.0 496.0 L519.0 498.0 L523.0 503.0 L522.0 510.0 L516.0 514.0 L505.0 512.0 L503.0 516.0 L506.0 524.0 L509.0 533.0 L515.0 534.0 L524.0 537.0 L530.0 539.0 L537.0 538.0 L545.0 541.0 L549.0 542.0 L553.0 540.0 L557.0 536.0 L560.0 528.0 L564.0 524.0 L568.0 528.0 L567.0 535.0 L566.0 541.0 L570.0 549.0 L575.0 554.0 L579.0 560.0 L582.0 568.0 L586.0 575.0 L589.0 582.0 L589.0 590.0 L586.0 594.0 L450.0 594.0 L440.0 591.0 L433.0 582.0 L430.0 572.0 Z" fill="#858a89" stroke="#858a89" stroke-width="1" stroke-linejoin="round"/>
<path d="M599.3 590.0 L599.3 583.6 L602.2 569.2 L609.4 554.8 L610.8 540.4 L616.6 531.8 L622.4 521.0 L623.1 508.0 L629.6 505.1 L628.8 493.6 L638.2 490.0 L645.4 492.2 L656.2 499.4 L657.6 506.6 L668.0 505.0 L680.7 518.8 L680.7 530.3 L686.0 527.0 L692.0 531.0 L697.0 540.0 L703.0 548.0 L705.0 560.0 L703.0 575.0 L706.0 588.0 L700.0 594.0 L650.0 594.0 L610.0 594.0 Z" fill="#858a89" stroke="#858a89" stroke-width="1" stroke-linejoin="round"/>
<circle cx="261" cy="310" r="6.3" fill="#858a89"/>
<circle cx="484.6" cy="320.7" r="6.3" fill="#858a89"/>
<circle cx="475.8" cy="380.7" r="6.3" fill="#858a89"/>
<circle cx="548.3" cy="377.8" r="6.3" fill="#858a89"/>
<circle cx="452" cy="417.8" r="6.3" fill="#858a89"/>
<circle cx="452.8" cy="442.8" r="6.3" fill="#858a89"/>
<circle cx="502.9" cy="452.7" r="6.3" fill="#858a89"/>
<circle cx="432.8" cy="464" r="6.3" fill="#858a89"/>
<circle cx="426.7" cy="478.8" r="6.3" fill="#858a89"/>
<circle cx="458.7" cy="484.3" r="6.3" fill="#858a89"/>
<circle cx="459.2" cy="491.8" r="6.3" fill="#858a89"/>
<circle cx="474.4" cy="479.7" r="6.3" fill="#858a89"/>
<circle cx="485.9" cy="478.8" r="6.3" fill="#858a89"/>
<circle cx="500.4" cy="481.9" r="6.3" fill="#858a89"/>
<circle cx="511.4" cy="488.5" r="6.3" fill="#858a89"/>
<circle cx="523.5" cy="474.1" r="6.3" fill="#858a89"/>
<circle cx="562.3" cy="476.8" r="6.3" fill="#858a89"/>
<circle cx="443.8" cy="498.6" r="6.3" fill="#858a89"/>
<circle cx="552.7" cy="497.5" r="6.3" fill="#858a89"/>
<circle cx="507.6" cy="499.2" r="6.3" fill="#858a89"/>
<circle cx="519.2" cy="499.2" r="6.3" fill="#858a89"/>
<circle cx="223.8" cy="523.6" r="6.3" fill="#858a89"/>
<circle cx="348.6" cy="546.6" r="6.3" fill="#858a89"/>
<circle cx="366.8" cy="507.2" r="6.3" fill="#858a89"/>
<circle cx="405.8" cy="513.4" r="6.3" fill="#858a89"/>
<circle cx="421.8" cy="516.8" r="6.3" fill="#858a89"/>
<circle cx="432.2" cy="519.8" r="6.3" fill="#858a89"/>
<circle cx="418.6" cy="527" r="6.3" fill="#858a89"/>
<circle cx="435.2" cy="504.8" r="6.3" fill="#858a89"/>
<circle cx="399.8" cy="530.6" r="6.3" fill="#858a89"/>
<circle cx="390.2" cy="536" r="6.3" fill="#858a89"/>
<circle cx="404" cy="540.6" r="6.3" fill="#858a89"/>
<circle cx="395" cy="552.2" r="6.3" fill="#858a89"/>
<circle cx="398.6" cy="555.8" r="6.3" fill="#858a89"/>
<circle cx="423.2" cy="549.8" r="6.3" fill="#858a89"/>
<circle cx="425" cy="554" r="6.3" fill="#858a89"/>
<circle cx="437" cy="534.8" r="6.3" fill="#858a89"/>
<circle cx="375.8" cy="574.2" r="6.3" fill="#858a89"/>
<circle cx="381.8" cy="582.8" r="6.3" fill="#858a89"/>
<circle cx="398" cy="582.2" r="6.3" fill="#858a89"/>
<circle cx="396.8" cy="586.4" r="6.3" fill="#858a89"/>
<circle cx="411.2" cy="573" r="6.3" fill="#858a89"/>
<circle cx="420.8" cy="569.6" r="6.3" fill="#858a89"/>
<circle cx="414.8" cy="583.4" r="6.3" fill="#858a89"/>
<circle cx="427.4" cy="585.6" r="6.3" fill="#858a89"/>
<circle cx="438.8" cy="545.6" r="6.3" fill="#858a89"/>
<circle cx="430.4" cy="563.6" r="6.3" fill="#858a89"/>
<circle cx="434.9" cy="504.8" r="6.3" fill="#858a89"/>
<circle cx="443.9" cy="499.8" r="6.3" fill="#858a89"/>
<circle cx="448.8" cy="506.1" r="6.3" fill="#858a89"/>
<circle cx="456.5" cy="510.6" r="6.3" fill="#858a89"/>
<circle cx="468.6" cy="512.9" r="6.3" fill="#858a89"/>
<circle cx="433.5" cy="517.8" r="6.3" fill="#858a89"/>
<circle cx="431.7" cy="521.4" r="6.3" fill="#858a89"/>
<circle cx="470.9" cy="527.7" r="6.3" fill="#858a89"/>
<circle cx="438" cy="534.9" r="6.3" fill="#858a89"/>
<circle cx="440.7" cy="546.6" r="6.3" fill="#858a89"/>
<circle cx="423.6" cy="548.4" r="6.3" fill="#858a89"/>
<circle cx="427.2" cy="585.3" r="6.3" fill="#858a89"/>
<circle cx="561.8" cy="530" r="6.3" fill="#858a89"/>
<circle cx="539.7" cy="517.8" r="6.3" fill="#858a89"/>
<circle cx="483" cy="512.4" r="6.3" fill="#858a89"/>
<circle cx="497.4" cy="506.1" r="6.3" fill="#858a89"/>
<circle cx="508.2" cy="501.6" r="6.3" fill="#858a89"/>
<circle cx="519" cy="502.5" r="6.3" fill="#858a89"/>
<circle cx="517.2" cy="512.4" r="6.3" fill="#858a89"/>
<circle cx="509.1" cy="510.6" r="6.3" fill="#858a89"/>
<circle cx="599.1" cy="582.6" r="6.3" fill="#858a89"/>
<circle cx="426" cy="588" r="6.3" fill="#858a89"/>
<circle cx="434" cy="578" r="6.3" fill="#858a89"/>
<circle cx="441" cy="582" r="6.3" fill="#858a89"/>
<circle cx="656" cy="387.5" r="6.3" fill="#858a89"/>
<circle cx="635.7" cy="403.6" r="6.3" fill="#858a89"/>
<circle cx="666.8" cy="428.7" r="6.3" fill="#858a89"/>
<circle cx="705.4" cy="441.5" r="6.3" fill="#858a89"/>
<circle cx="742.1" cy="452.8" r="6.3" fill="#858a89"/>
<circle cx="667.3" cy="454.1" r="6.3" fill="#858a89"/>
<circle cx="678.4" cy="457" r="6.3" fill="#858a89"/>
<circle cx="697" cy="460.2" r="6.3" fill="#858a89"/>
<circle cx="630.2" cy="461.5" r="6.3" fill="#858a89"/>
<circle cx="636.9" cy="470.9" r="6.3" fill="#858a89"/>
<circle cx="673.7" cy="469.3" r="6.3" fill="#858a89"/>
<circle cx="696.7" cy="460.8" r="6.3" fill="#858a89"/>
<circle cx="716.9" cy="480.5" r="6.3" fill="#858a89"/>
<circle cx="753.2" cy="478.4" r="6.3" fill="#858a89"/>
<circle cx="707.9" cy="489.6" r="6.3" fill="#858a89"/>
<circle cx="711.1" cy="502.4" r="6.3" fill="#858a89"/>
<circle cx="634.8" cy="490.7" r="6.3" fill="#858a89"/>
<circle cx="640.1" cy="491.2" r="6.3" fill="#858a89"/>
<circle cx="651.9" cy="500.8" r="6.3" fill="#858a89"/>
<circle cx="627.9" cy="510.4" r="6.3" fill="#858a89"/>
<circle cx="697.7" cy="516.8" r="6.3" fill="#858a89"/>
<circle cx="690.3" cy="524.3" r="6.3" fill="#858a89"/>
<circle cx="710.5" cy="525.3" r="6.3" fill="#858a89"/>
<circle cx="735.6" cy="533.9" r="6.3" fill="#858a89"/>
<circle cx="762.3" cy="533.9" r="6.3" fill="#858a89"/>
<circle cx="762.8" cy="548.8" r="6.3" fill="#858a89"/>
<circle cx="934" cy="519.6" r="6.3" fill="#858a89"/>
<circle cx="776" cy="524.6" r="6.3" fill="#858a89"/>
<circle cx="816.4" cy="525.6" r="6.3" fill="#858a89"/>
<circle cx="762.4" cy="534" r="6.3" fill="#858a89"/>
<circle cx="805" cy="533.4" r="6.3" fill="#858a89"/>
<circle cx="766.6" cy="547.2" r="6.3" fill="#858a89"/>
<circle cx="763.6" cy="550.8" r="6.3" fill="#858a89"/>
<circle cx="817.4" cy="555" r="6.3" fill="#858a89"/>
<circle cx="853.6" cy="571.4" r="6.3" fill="#858a89"/>
<circle cx="764.8" cy="568.2" r="6.3" fill="#858a89"/>
<circle cx="779.2" cy="569.4" r="6.3" fill="#858a89"/>
<circle cx="790" cy="579" r="6.3" fill="#858a89"/>
<circle cx="781" cy="576" r="6.3" fill="#858a89"/>
<circle cx="824.2" cy="576.6" r="6.3" fill="#858a89"/>
<circle cx="808.6" cy="583.2" r="6.3" fill="#858a89"/>
<circle cx="770.2" cy="588" r="6.3" fill="#858a89"/>
<circle cx="772" cy="579.6" r="6.3" fill="#858a89"/>
<circle cx="698.5" cy="521" r="6.3" fill="#858a89"/>
<circle cx="687" cy="530" r="6.3" fill="#858a89"/>
<circle cx="710.7" cy="502.6" r="6.3" fill="#858a89"/>
<circle cx="698" cy="517.3" r="6.3" fill="#858a89"/>
<circle cx="690.1" cy="524.8" r="6.3" fill="#858a89"/>
<circle cx="710.7" cy="525.8" r="6.3" fill="#858a89"/>
<circle cx="712.7" cy="534" r="6.3" fill="#858a89"/>
<circle cx="735.8" cy="534" r="6.3" fill="#858a89"/>
<circle cx="762.3" cy="534.3" r="6.3" fill="#858a89"/>
<circle cx="776" cy="524.5" r="6.3" fill="#858a89"/>
<circle cx="765.6" cy="549" r="6.3" fill="#858a89"/>
<circle cx="766.9" cy="545.7" r="6.3" fill="#858a89"/>
<circle cx="763" cy="551.6" r="6.3" fill="#858a89"/>
<circle cx="731" cy="539.2" r="6.3" fill="#858a89"/>
<circle cx="729" cy="545.7" r="6.3" fill="#858a89"/>
<circle cx="711.4" cy="542.5" r="6.3" fill="#858a89"/>
<circle cx="703.5" cy="552.3" r="6.3" fill="#858a89"/>
<circle cx="719.2" cy="555.5" r="6.3" fill="#858a89"/>
<circle cx="735.5" cy="552.3" r="6.3" fill="#858a89"/>
<circle cx="740.7" cy="555.5" r="6.3" fill="#858a89"/>
<circle cx="751.8" cy="558.8" r="6.3" fill="#858a89"/>
<circle cx="736.8" cy="562.7" r="6.3" fill="#858a89"/>
<circle cx="704.2" cy="562" r="6.3" fill="#858a89"/>
<circle cx="693" cy="555.5" r="6.3" fill="#858a89"/>
<circle cx="727.7" cy="570.5" r="6.3" fill="#858a89"/>
<circle cx="745.3" cy="570.5" r="6.3" fill="#858a89"/>
<circle cx="764.9" cy="568.6" r="6.3" fill="#858a89"/>
<circle cx="778.6" cy="569.2" r="6.3" fill="#858a89"/>
<circle cx="790.4" cy="579" r="6.3" fill="#858a89"/>
<circle cx="770.1" cy="586.9" r="6.3" fill="#858a89"/>
<circle cx="753.2" cy="587.5" r="6.3" fill="#858a89"/>
<circle cx="742" cy="586.9" r="6.3" fill="#858a89"/>
<circle cx="729" cy="587.5" r="6.3" fill="#858a89"/>
<circle cx="708.1" cy="586.2" r="6.3" fill="#858a89"/>
<circle cx="708.1" cy="575.1" r="6.3" fill="#858a89"/>
<circle cx="745.3" cy="578.4" r="6.3" fill="#858a89"/>
<circle cx="761.6" cy="578.4" r="6.3" fill="#858a89"/>
<circle cx="774.7" cy="581.6" r="6.3" fill="#858a89"/>
<circle cx="716" cy="580" r="6.3" fill="#858a89"/>
<circle cx="737" cy="580" r="6.3" fill="#858a89"/>
<circle cx="720" cy="588" r="6.3" fill="#858a89"/>
<circle cx="782" cy="585" r="6.3" fill="#858a89"/>
<circle cx="709.4" cy="553.6" r="6.3" fill="#858a89"/>
<circle cx="699.6" cy="552.3" r="6.3" fill="#858a89"/>
<circle cx="720.5" cy="545.7" r="6.3" fill="#858a89"/>
<circle cx="704.8" cy="558.8" r="6.3" fill="#858a89"/>
<circle cx="745.3" cy="555.5" r="6.3" fill="#858a89"/>
<circle cx="757" cy="556.8" r="6.3" fill="#858a89"/>
<circle cx="748.6" cy="551" r="6.3" fill="#858a89"/>
<circle cx="726" cy="551" r="6.3" fill="#858a89"/>
<circle cx="716" cy="549" r="6.3" fill="#858a89"/>
<circle cx="405.9" cy="513.7" r="6.3" fill="#858a89"/>
<circle cx="421.6" cy="517" r="6.3" fill="#858a89"/>
<circle cx="418.9" cy="527.4" r="6.3" fill="#858a89"/>
<circle cx="432.7" cy="519.6" r="6.3" fill="#858a89"/>
<circle cx="435.3" cy="505.2" r="6.3" fill="#858a89"/>
<circle cx="448.3" cy="505.9" r="6.3" fill="#858a89"/>
<circle cx="456.8" cy="510.5" r="6.3" fill="#858a89"/>
<circle cx="468.9" cy="513.1" r="6.3" fill="#858a89"/>
<circle cx="483.6" cy="511.8" r="6.3" fill="#858a89"/>
<circle cx="496.7" cy="505.2" r="6.3" fill="#858a89"/>
<circle cx="471.2" cy="527.8" r="6.3" fill="#858a89"/>
<circle cx="437.9" cy="534.6" r="6.3" fill="#858a89"/>
<circle cx="400" cy="529.4" r="6.3" fill="#858a89"/>
<circle cx="403.9" cy="540.5" r="6.3" fill="#858a89"/>
<circle cx="423.5" cy="549.6" r="6.3" fill="#858a89"/>
<circle cx="400" cy="554.9" r="6.3" fill="#858a89"/>
<circle cx="424.2" cy="554.2" r="6.3" fill="#858a89"/>
<circle cx="440.5" cy="546.4" r="6.3" fill="#858a89"/>
<circle cx="439.2" cy="556.2" r="6.3" fill="#858a89"/>
<circle cx="452.3" cy="541.1" r="6.3" fill="#858a89"/>
<circle cx="471.2" cy="540.5" r="6.3" fill="#858a89"/>
<circle cx="421.6" cy="569.2" r="6.3" fill="#858a89"/>
<circle cx="410.5" cy="572.5" r="6.3" fill="#858a89"/>
<circle cx="415" cy="583.6" r="6.3" fill="#858a89"/>
<circle cx="427.4" cy="585.6" r="6.3" fill="#858a89"/>
<circle cx="400" cy="582.3" r="6.3" fill="#858a89"/>
<circle cx="426" cy="566" r="6.3" fill="#858a89"/>
<circle cx="432" cy="560" r="6.3" fill="#858a89"/>
<circle cx="517.2" cy="153.1" r="6.3" fill="#78ec00"/>
<circle cx="515" cy="274.6" r="6.3" fill="#78ec00"/>
<circle cx="383.2" cy="411.6" r="6.3" fill="#78ec00"/>
<circle cx="679.9" cy="437.4" r="6.3" fill="#78ec00"/>
<circle cx="646" cy="461.5" r="6.3" fill="#78ec00"/>
<circle cx="760.9" cy="489.6" r="6.3" fill="#78ec00"/>
<circle cx="803.8" cy="543" r="6.3" fill="#78ec00"/>
<circle cx="831.2" cy="560.4" r="6.3" fill="#78ec00"/>
<circle cx="800" cy="585.6" r="6.3" fill="#78ec00"/>
<circle cx="523.5" cy="524.1" r="6.3" fill="#78ec00"/>
<circle cx="536.1" cy="525.5" r="6.3" fill="#78ec00"/>
<circle cx="554.1" cy="516" r="6.3" fill="#78ec00"/>
<circle cx="546.9" cy="535.4" r="6.3" fill="#78ec00"/>
<circle cx="462.4" cy="572.8" r="6.3" fill="#78ec00"/>
<circle cx="483" cy="567.5" r="6.3" fill="#78ec00"/>
<circle cx="483.8" cy="578.8" r="6.3" fill="#78ec00"/>
<circle cx="492.8" cy="567.5" r="6.3" fill="#78ec00"/>
<circle cx="497.3" cy="554" r="6.3" fill="#78ec00"/>
<circle cx="504" cy="575" r="6.3" fill="#78ec00"/>
<circle cx="507.8" cy="587" r="6.3" fill="#78ec00"/>
<circle cx="521.3" cy="550.3" r="6.3" fill="#78ec00"/>
<circle cx="501" cy="563.8" r="6.3" fill="#78ec00"/>
<circle cx="513.8" cy="572" r="6.3" fill="#78ec00"/>
<circle cx="521.3" cy="565.3" r="6.3" fill="#78ec00"/>
<circle cx="530.3" cy="563.8" r="6.3" fill="#78ec00"/>
<circle cx="549.8" cy="559.3" r="6.3" fill="#78ec00"/>
<circle cx="540" cy="563" r="6.3" fill="#78ec00"/>
<circle cx="543.8" cy="587" r="6.3" fill="#78ec00"/>
<circle cx="557.3" cy="587" r="6.3" fill="#78ec00"/>
<circle cx="527.3" cy="589.3" r="6.3" fill="#78ec00"/>
<circle cx="498" cy="585" r="6.3" fill="#78ec00"/>
<circle cx="512" cy="581" r="6.3" fill="#78ec00"/>
<circle cx="520" cy="580" r="6.3" fill="#78ec00"/>
<circle cx="535" cy="582" r="6.3" fill="#78ec00"/>
<circle cx="505" cy="568" r="6.3" fill="#78ec00"/>
<circle cx="515" cy="563" r="6.3" fill="#78ec00"/>
<circle cx="526" cy="572" r="6.3" fill="#78ec00"/>
<circle cx="645.4" cy="511.6" r="6.3" fill="#78ec00"/>
<circle cx="621.6" cy="526" r="6.3" fill="#78ec00"/>
<circle cx="628.1" cy="535.4" r="6.3" fill="#78ec00"/>
<circle cx="635.3" cy="541.8" r="6.3" fill="#78ec00"/>
<circle cx="636.8" cy="521" r="6.3" fill="#78ec00"/>
<circle cx="618.8" cy="561.3" r="6.3" fill="#78ec00"/>
<circle cx="615.2" cy="569.2" r="6.3" fill="#78ec00"/>
<circle cx="623.8" cy="569.2" r="6.3" fill="#78ec00"/>
<circle cx="613" cy="587.9" r="6.3" fill="#78ec00"/>
<circle cx="692.9" cy="537.5" r="6.3" fill="#78ec00"/>
<circle cx="695.8" cy="572.8" r="6.3" fill="#78ec00"/>
<circle cx="687.2" cy="583.6" r="6.3" fill="#78ec00"/>
<circle cx="678.5" cy="585.8" r="6.3" fill="#78ec00"/>
<circle cx="648.3" cy="532.5" r="6.3" fill="#78ec00"/>
<circle cx="674.2" cy="565.6" r="6.3" fill="#78ec00"/>
<circle cx="620" cy="556" r="6.3" fill="#78ec00"/>
<circle cx="626" cy="548" r="6.3" fill="#78ec00"/>
<circle cx="692.9" cy="538.1" r="6.3" fill="#78ec00"/>
<circle cx="715.9" cy="541.3" r="6.3" fill="#78ec00"/>
<circle cx="695.6" cy="572.3" r="6.3" fill="#78ec00"/>
<circle cx="688.1" cy="581.9" r="6.3" fill="#78ec00"/>
<circle cx="699.9" cy="578.7" r="6.3" fill="#78ec00"/>
<circle cx="721.2" cy="576.5" r="6.3" fill="#78ec00"/>
<circle cx="755.3" cy="565.9" r="6.3" fill="#78ec00"/>
<circle cx="620" cy="588" r="6.3" fill="#78ec00"/>
<circle cx="630" cy="588" r="6.3" fill="#78ec00"/>
<circle cx="693.1" cy="537.9" r="6.3" fill="#78ec00"/>
<circle cx="715.9" cy="541.5" r="6.3" fill="#78ec00"/>
<circle cx="696.3" cy="573.2" r="6.3" fill="#78ec00"/>
<circle cx="689.1" cy="584.9" r="6.3" fill="#78ec00"/>
<circle cx="755.1" cy="566" r="6.3" fill="#78ec00"/>
<circle cx="753.8" cy="575.1" r="6.3" fill="#78ec00"/>
<circle cx="722.5" cy="577.1" r="6.3" fill="#78ec00"/>
<circle cx="734.9" cy="579.7" r="6.3" fill="#78ec00"/>
<circle cx="798.9" cy="585.6" r="6.3" fill="#78ec00"/>
<circle cx="799.5" cy="543.1" r="6.3" fill="#78ec00"/>
<circle cx="483" cy="525.9" r="6.3" fill="#ff8a00"/>
<circle cx="469.1" cy="569" r="6.3" fill="#ff8a00"/>
<circle cx="471.8" cy="581" r="6.3" fill="#ff8a00"/>
<circle cx="492" cy="570.9" r="6.3" fill="#ff8a00"/>
<circle cx="508.9" cy="563" r="6.3" fill="#ff8a00"/>
<circle cx="519" cy="558.9" r="6.3" fill="#ff8a00"/>
<circle cx="539.6" cy="552.9" r="6.3" fill="#ff8a00"/>
<circle cx="519.4" cy="587" r="6.3" fill="#ff8a00"/>
<circle cx="532.5" cy="587.8" r="6.3" fill="#ff8a00"/>
<circle cx="530.3" cy="575.8" r="6.3" fill="#ff8a00"/>
<circle cx="537" cy="575" r="6.3" fill="#ff8a00"/>
<circle cx="543.8" cy="581" r="6.3" fill="#ff8a00"/>
<circle cx="553.1" cy="570.5" r="6.3" fill="#ff8a00"/>
<circle cx="558" cy="575.8" r="6.3" fill="#ff8a00"/>
<circle cx="553.5" cy="584" r="6.3" fill="#ff8a00"/>
<circle cx="562.5" cy="579.5" r="6.3" fill="#ff8a00"/>
<circle cx="573.8" cy="575.8" r="6.3" fill="#ff8a00"/>
<circle cx="579.8" cy="581.8" r="6.3" fill="#ff8a00"/>
<circle cx="570.8" cy="587.8" r="6.3" fill="#ff8a00"/>
<circle cx="698.3" cy="468.3" r="6.3" fill="#ff8a00"/>
<circle cx="707.9" cy="475.7" r="6.3" fill="#ff8a00"/>
<circle cx="723.9" cy="472.5" r="6.3" fill="#ff8a00"/>
<circle cx="673.8" cy="515.9" r="6.3" fill="#ff8a00"/>
<circle cx="641.8" cy="520.2" r="6.3" fill="#ff8a00"/>
<circle cx="671.3" cy="527.4" r="6.3" fill="#ff8a00"/>
<circle cx="656.2" cy="525.3" r="6.3" fill="#ff8a00"/>
<circle cx="639.6" cy="534.6" r="6.3" fill="#ff8a00"/>
<circle cx="657.6" cy="533.2" r="6.3" fill="#ff8a00"/>
<circle cx="687.2" cy="544" r="6.3" fill="#ff8a00"/>
<circle cx="632.4" cy="551.2" r="6.3" fill="#ff8a00"/>
<circle cx="633.2" cy="562" r="6.3" fill="#ff8a00"/>
<circle cx="682.1" cy="559.1" r="6.3" fill="#ff8a00"/>
<circle cx="674.9" cy="572.8" r="6.3" fill="#ff8a00"/>
<circle cx="670.6" cy="585.8" r="6.3" fill="#ff8a00"/>
<circle cx="610.1" cy="579.3" r="6.3" fill="#ff8a00"/>
<circle cx="618.8" cy="580.7" r="6.3" fill="#ff8a00"/>
<circle cx="627.4" cy="583.6" r="6.3" fill="#ff8a00"/>
<circle cx="698" cy="585.8" r="6.3" fill="#ff8a00"/>
<circle cx="641" cy="527" r="6.3" fill="#ff8a00"/>
<circle cx="637" cy="570" r="6.3" fill="#ff8a00"/>
<circle cx="629" cy="574" r="6.3" fill="#ff8a00"/>
<circle cx="716.9" cy="585.1" r="6.3" fill="#ff8a00"/>
<circle cx="726.5" cy="576.5" r="6.3" fill="#ff8a00"/>
<circle cx="730.8" cy="585.1" r="6.3" fill="#ff8a00"/>
<circle cx="755.9" cy="573.3" r="6.3" fill="#ff8a00"/>
<circle cx="791.8" cy="563.4" r="6.3" fill="#ff8a00"/>
<circle cx="686.5" cy="543.8" r="6.3" fill="#ff8a00"/>
<circle cx="682" cy="558.8" r="6.3" fill="#ff8a00"/>
<circle cx="698" cy="586.2" r="6.3" fill="#ff8a00"/>
<circle cx="716.6" cy="585.6" r="6.3" fill="#ff8a00"/>
<circle cx="727" cy="577.1" r="6.3" fill="#ff8a00"/>
<circle cx="731" cy="584.9" r="6.3" fill="#ff8a00"/>
<circle cx="755.8" cy="573.2" r="6.3" fill="#ff8a00"/>
<circle cx="791.7" cy="563.7" r="6.3" fill="#ff8a00"/>
<circle cx="686.2" cy="300" r="6.3" fill="#000000"/>
<circle cx="652" cy="319" r="6.3" fill="#000000"/>
<circle cx="690.8" cy="466.7" r="6.3" fill="#000000"/>
<circle cx="669.5" cy="499" r="6.3" fill="#000000"/>
<circle cx="674.9" cy="504.8" r="6.3" fill="#000000"/>
<circle cx="664.1" cy="507.3" r="6.3" fill="#000000"/>
<circle cx="657.6" cy="523.1" r="6.3" fill="#000000"/>
<circle cx="647.6" cy="540.4" r="6.3" fill="#000000"/>
<circle cx="667" cy="541.1" r="6.3" fill="#000000"/>
<circle cx="678.9" cy="539" r="6.3" fill="#000000"/>
<circle cx="658.4" cy="547.6" r="6.3" fill="#000000"/>
<circle cx="640" cy="557.7" r="6.3" fill="#000000"/>
<circle cx="675.6" cy="554.1" r="6.3" fill="#000000"/>
<circle cx="656.2" cy="558.4" r="6.3" fill="#000000"/>
<circle cx="663.4" cy="565.6" r="6.3" fill="#000000"/>
<circle cx="646.8" cy="570.6" r="6.3" fill="#000000"/>
<circle cx="657.6" cy="572.8" r="6.3" fill="#000000"/>
<circle cx="636.8" cy="584.3" r="6.3" fill="#000000"/>
<circle cx="649" cy="583.6" r="6.3" fill="#000000"/>
<circle cx="656.2" cy="586.5" r="6.3" fill="#000000"/>
<circle cx="664.1" cy="585.8" r="6.3" fill="#000000"/>
<circle cx="651.2" cy="576.4" r="6.3" fill="#000000"/>
<circle cx="652" cy="552" r="6.3" fill="#000000"/>
<circle cx="660" cy="540" r="6.3" fill="#000000"/>
<circle cx="668" cy="555" r="6.3" fill="#000000"/>
<circle cx="648" cy="562" r="6.3" fill="#000000"/>
<circle cx="642" cy="577" r="6.3" fill="#000000"/>
<circle cx="655" cy="580" r="6.3" fill="#000000"/>
<circle cx="662" cy="578" r="6.3" fill="#000000"/>
</g>
<text x="1454" y="157.7" font-size="30" textLength="546" lengthAdjust="spacingAndGlyphs">Upregulated DEGs in human ASD microglia</text>
<text x="1591.5" y="193.3" font-size="30" textLength="302.5" lengthAdjust="spacingAndGlyphs">GO Cellular Component</text>
<text x="1650.2" y="256.8" text-anchor="end" font-size="30">Cytosolic Large Ribosomal Subunit</text>
<line x1="1656" x2="1680" y1="246.2" y2="246.2" stroke="#000" stroke-width="2.3"/>
<rect x="1680.9" y="233.9" width="176.6" height="24.6" fill="#000" stroke="#000" stroke-width="2.4"/>
<text x="1650.2" y="291.4" text-anchor="end" font-size="30">Cell-Substrate Junction</text>
<line x1="1656" x2="1680" y1="280.8" y2="280.8" stroke="#000" stroke-width="2.3"/>
<rect x="1680.9" y="268.5" width="92.6" height="24.6" fill="#fff" stroke="#000" stroke-width="2.4"/>
<text x="1650.2" y="326.0" text-anchor="end" font-size="30">Focal Adhesion</text>
<line x1="1656" x2="1680" y1="315.4" y2="315.4" stroke="#000" stroke-width="2.3"/>
<rect x="1680.9" y="303.1" width="92.6" height="24.6" fill="#ff8a00" stroke="#000" stroke-width="2.4"/>
<text x="1650.2" y="360.6" text-anchor="end" font-size="30">Intracellular Membrane-Bounded Organelle</text>
<line x1="1656" x2="1680" y1="350.0" y2="350.0" stroke="#000" stroke-width="2.3"/>
<rect x="1680.9" y="337.7" width="71.9" height="24.6" fill="#fff" stroke="#000" stroke-width="2.4"/>
<text x="1650.2" y="395.2" text-anchor="end" font-size="30">Nucleus</text>
<line x1="1656" x2="1680" y1="384.6" y2="384.6" stroke="#000" stroke-width="2.3"/>
<rect x="1680.9" y="372.3" width="66.9" height="24.6" fill="#fff" stroke="#000" stroke-width="2.4"/>
<text x="1650.2" y="429.8" text-anchor="end" font-size="30">Intracellular Non-Membrane-Bounded Organelle</text>
<line x1="1656" x2="1680" y1="419.2" y2="419.2" stroke="#000" stroke-width="2.3"/>
<rect x="1680.9" y="406.9" width="54.3" height="24.6" fill="#fff" stroke="#000" stroke-width="2.4"/>
<text x="1650.2" y="464.4" text-anchor="end" font-size="30">Endosome Membrane</text>
<line x1="1656" x2="1680" y1="453.8" y2="453.8" stroke="#000" stroke-width="2.3"/>
<rect x="1680.9" y="441.5" width="46.7" height="24.6" fill="#78ec00" stroke="#000" stroke-width="2.4"/>
<text x="1650.2" y="499.0" text-anchor="end" font-size="30">Lysosomal Membrane</text>
<line x1="1656" x2="1680" y1="488.4" y2="488.4" stroke="#000" stroke-width="2.3"/>
<rect x="1680.9" y="476.1" width="31.4" height="24.6" fill="#78ec00" stroke="#000" stroke-width="2.4"/>
<text x="1650.2" y="533.6" text-anchor="end" font-size="30">Endoplasmic Reticulum Membrane</text>
<line x1="1656" x2="1680" y1="523.0" y2="523.0" stroke="#000" stroke-width="2.3"/>
<rect x="1680.9" y="510.7" width="29.9" height="24.6" fill="#78ec00" stroke="#000" stroke-width="2.4"/>
<text x="1650.2" y="568.2" text-anchor="end" font-size="30">Secretory Granule Membrane</text>
<line x1="1656" x2="1680" y1="557.6" y2="557.6" stroke="#000" stroke-width="2.3"/>
<rect x="1680.9" y="545.3" width="24.6" height="24.6" fill="#78ec00" stroke="#000" stroke-width="2.4"/>
<path d="M1679.75 218 V584.7 H1863.8" fill="none" stroke="#000" stroke-width="2.4"/>
<line x1="1679.75" x2="1679.75" y1="584" y2="608.7" stroke="#000" stroke-width="2.4"/>
<text x="1679.75" y="642.7" text-anchor="middle" font-size="30.5">0</text>
<line x1="1730.7" x2="1730.7" y1="584" y2="608.7" stroke="#000" stroke-width="2.4"/>
<text x="1730.7" y="642.7" text-anchor="middle" font-size="30.5">10</text>
<line x1="1781.7" x2="1781.7" y1="584" y2="608.7" stroke="#000" stroke-width="2.4"/>
<text x="1781.7" y="642.7" text-anchor="middle" font-size="30.5">20</text>
<line x1="1832.7" x2="1832.7" y1="584" y2="608.7" stroke="#000" stroke-width="2.4"/>
<text x="1832.7" y="642.7" text-anchor="middle" font-size="30.5">30</text>
<text transform="translate(1717.8 690) scale(0.945 1)" x="0" y="0" font-size="30">-log<tspan font-size="17.5" dy="9.6">10</tspan><tspan dy="-9.6">(p</tspan><tspan font-size="17.5" dy="9.6">adj</tspan><tspan dy="-9.6">)</tspan></text>
</svg>
</body></html>
